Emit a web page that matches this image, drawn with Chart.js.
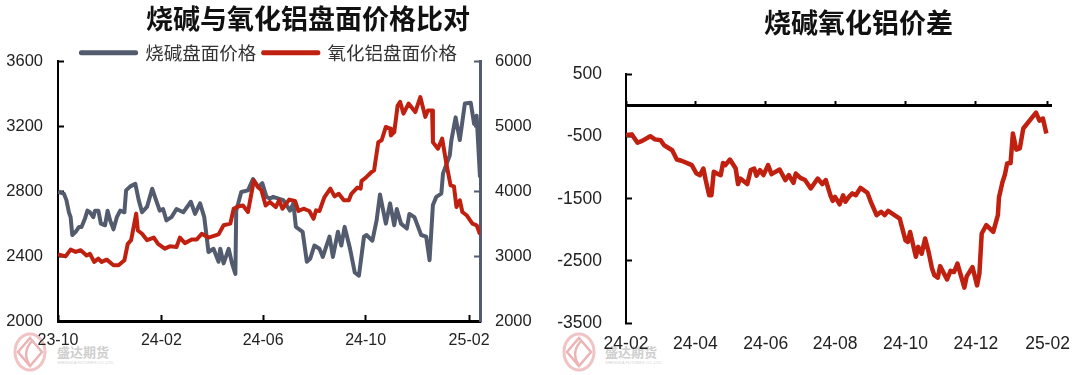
<!DOCTYPE html>
<html>
<head>
<meta charset="utf-8">
<title>烧碱与氧化铝盘面价格比对</title>
<script src="https://cdn.jsdelivr.net/npm/chart.js@4"></script>
<style>
  html, body { margin: 0; padding: 0; background: #fff; }
  #page { position: relative; width: 1080px; height: 375px; overflow: hidden; }
  canvas { position: absolute; top: 0; }
  #leftChart { left: 0; z-index: 2; }
  #rightChart { left: 540px; z-index: 2; }
  .logo { position: absolute; top: 332px; z-index: 1; }
</style>
</head>
<body>
<div id="page">
  <svg class="logo" style="left:12px" width="110" height="42" viewBox="0 0 110 42">
    <ellipse cx="18" cy="20" rx="15" ry="18" fill="none" stroke="#f0c4c4" stroke-width="3"/>
    <path d="M18 6 L30 20 L18 34 L6 20 Z" fill="none" stroke="#ecb4b4" stroke-width="2.5"/>
    <path d="M20 9 Q10 20 17 32" fill="none" stroke="#ecb4b4" stroke-width="2.5"/>
    <text x="45" y="25" font-family="Noto Sans CJK SC" font-size="13" font-weight="700" fill="#cfcfcf">盛达期货</text>
    <text x="45" y="32" font-family="Liberation Sans" font-size="4" fill="#d4d4d4">SHENGDA FUTURES CO.,LTD.</text>
  </svg>
  <svg class="logo" style="left:561px" width="110" height="42" viewBox="0 0 110 42">
    <ellipse cx="18" cy="20" rx="15" ry="18" fill="none" stroke="#f0c4c4" stroke-width="3"/>
    <path d="M18 6 L30 20 L18 34 L6 20 Z" fill="none" stroke="#ecb4b4" stroke-width="2.5"/>
    <path d="M20 9 Q10 20 17 32" fill="none" stroke="#ecb4b4" stroke-width="2.5"/>
    <text x="44" y="25" font-family="Noto Sans CJK SC" font-size="13" font-weight="700" fill="#cfcfcf">盛达期货</text>
    <text x="44" y="32" font-family="Liberation Sans" font-size="4" fill="#d4d4d4">SHENGDA FUTURES CO.,LTD.</text>
  </svg>
  <canvas id="leftChart" width="616" height="375"></canvas>
  <canvas id="rightChart" width="637" height="375"></canvas>
</div>
<script>
// x values are days counted from the first month on each axis

// left chart: days since 2023-10-01
const sodaDays = [0,7,10,13,15,17,21,25,28,32,35,38,42,44,48,51,56,59,62,66,70,74,79,81,86,92,96,100,106,112,118,121,125,129,135,141,149,158,163,169,174,179,185,191,193,197,203,207,211,212,218,226,232,238,243,248,252,256,268,276,280,283,291,296,300,305,311,315,323,327,333,337,341,347,353,358,364,367,374,379,383,390,395,400,403,408,415,418,424,432,438,442,446,450,456,458,466,468,473,478,484,491,495,498,502];
const sodaPrice = [2795,2785,2745,2670,2640,2530,2550,2580,2580,2630,2680,2670,2640,2680,2680,2600,2590,2680,2620,2565,2640,2680,2670,2805,2830,2845,2745,2670,2705,2815,2725,2680,2690,2620,2640,2690,2670,2735,2660,2725,2640,2425,2445,2365,2445,2355,2445,2355,2290,2680,2795,2805,2875,2825,2850,2765,2755,2765,2745,2680,2725,2580,2550,2365,2385,2465,2445,2395,2520,2395,2550,2465,2580,2455,2300,2280,2520,2530,2495,2620,2780,2600,2725,2590,2690,2600,2570,2660,2640,2530,2520,2375,2715,2765,2785,2910,3020,3115,3255,3115,3340,3345,3215,3265,2885];

const aluminaDays = [0,9,15,21,27,34,38,43,48,52,58,66,72,79,83,87,93,95,100,106,114,119,127,133,141,145,151,159,165,171,179,191,197,205,209,214,220,226,233,238,242,247,252,259,263,267,275,282,286,292,299,304,307,311,317,324,329,334,340,346,349,356,360,361,367,373,376,381,385,390,395,396,400,404,407,411,417,425,431,437,440,445,446,452,457,462,467,471,474,478,481,486,493,498,502];
const aluminaPrice = [3025,2995,3100,3065,3090,3010,3035,2910,2960,2910,2945,2860,2860,2935,3190,3245,3655,3395,3345,3245,3285,3190,3115,3150,3140,3285,3200,3255,3255,3345,3285,3335,3475,3500,3730,3765,3780,3680,4165,4065,4015,3780,3835,3755,3860,3730,3870,3850,3695,3730,3695,3575,3705,3695,3910,4040,3920,3960,3860,3860,3960,4055,4040,4155,4220,4295,4320,4755,4785,4990,4965,4860,4910,5320,5375,5195,5350,5220,5450,5145,5245,5245,4755,4655,4810,4425,4090,4075,3755,3860,3680,3630,3500,3475,3335];

const leftTickDays = [0,123,244,366,489];
const leftTickLabels = ['23-10','24-02','24-06','24-10','25-02'];
const leftDayMax = 502;
const sodaTicks = [2000,2400,2800,3200,3600];
const aluminaTicks = [2000,3000,4000,5000,6000];

// right chart: days since 2024-02-01
const spreadDays = [0,5,10,14,21,25,30,33,40,44,48,54,57,61,64,67,69,72,74,76,80,82,84,86,90,95,97,99,105,108,111,113,116,119,123,126,133,138,141,145,147,151,155,160,166,170,173,177,179,181,185,188,190,193,196,199,203,209,212,217,221,224,227,237,242,244,246,251,253,256,259,262,265,267,270,272,278,281,284,287,293,295,300,304,306,308,312,318,322,323,326,328,330,333,335,338,341,344,355,358,361,364];
const spreadValues = [-475,-465,-600,-570,-495,-545,-560,-640,-720,-870,-890,-935,-960,-1095,-1120,-1015,-1200,-1445,-1445,-1065,-1105,-1120,-925,-960,-870,-1015,-1265,-1175,-1265,-1040,-1015,-1130,-1040,-1120,-960,-1105,-1030,-1200,-1120,-1245,-1095,-1165,-1200,-1335,-1175,-1265,-1200,-1445,-1535,-1470,-1590,-1445,-1550,-1470,-1415,-1445,-1325,-1405,-1550,-1765,-1710,-1765,-1695,-1820,-2170,-2195,-2035,-2435,-2275,-2385,-2140,-2355,-2625,-2730,-2770,-2585,-2800,-2660,-2680,-2545,-2930,-2750,-2600,-2895,-2705,-2060,-1925,-2035,-1765,-1475,-1230,-1120,-935,-925,-450,-710,-690,-370,-115,-245,-210,-450];

const rightTickDays = [0,60,121,181,242,303,365];
const rightTickLabels = ['24-02','24-04','24-06','24-08','24-10','24-12','25-02'];
const rightDayMax = 368;
const spreadTicks = [-3500,-2500,-1500,-500,500];

const GREY = '#535b6e';
const RED = '#c0200f';
const BLACK = '#000000';
const TEXT = '#222222';
const NUM_FONT = 'Liberation Sans, Arial, sans-serif';
const CJK_FONT = '"Noto Sans CJK SC", sans-serif';

function toPoints(days, values) {
  return days.map(function(d, i) { return { x: d, y: values[i] }; });
}

function fixedTicks(values) {
  return function(scale) {
    scale.ticks = values.map(function(v) { return { value: v }; });
  };
}

function fixedWidth(w) {
  return function(scale) { scale.width = w; };
}

function fixedHeight(h) {
  return function(scale) { scale.height = h; };
}

new Chart(document.getElementById('leftChart'), {
  type: 'line',
  data: {
    datasets: [{
      label: '烧碱盘面价格',
      data: toPoints(sodaDays, sodaPrice),
      yAxisID: 'y',
      order: 2,
      borderColor: GREY,
      backgroundColor: GREY,
      borderWidth: 4,
      borderJoinStyle: 'round',
      pointRadius: 0,
      tension: 0
    }, {
      label: '氧化铝盘面价格',
      data: toPoints(aluminaDays, aluminaPrice),
      yAxisID: 'y2',
      order: 1,
      borderColor: RED,
      backgroundColor: RED,
      borderWidth: 4,
      borderJoinStyle: 'round',
      pointRadius: 0,
      tension: 0
    }]
  },
  options: {
    responsive: false,
    animation: false,
    devicePixelRatio: 1,
    plugins: {
      tooltip: { enabled: false },
      title: {
        display: true,
        text: '烧碱与氧化铝盘面价格比对',
        color: '#111',
        font: { family: CJK_FONT, size: 27, weight: 'bold' },
        padding: { top: 3, bottom: 1 }
      },
      legend: {
        display: true,
        fullSize: false,
        maxHeight: 25,
        labels: {
          boxWidth: 55,
          boxHeight: 1,
          padding: 7,
          color: '#333',
          font: { family: CJK_FONT, size: 18.5 },
          sort: function(a, b) { return a.datasetIndex - b.datasetIndex; }
        }
      }
    },
    scales: {
      x: {
        type: 'linear',
        min: 0,
        max: leftDayMax,
        afterBuildTicks: fixedTicks(leftTickDays),
        afterFit: fixedHeight(54),
        border: { color: BLACK, width: 3 },
        grid: { drawOnChartArea: false, tickLength: -6, tickWidth: 2, tickColor: BLACK },
        ticks: {
          autoSkip: false,
          maxRotation: 0,
          padding: 16,
          color: TEXT,
          font: { family: NUM_FONT, size: 16 },
          callback: function(v) { return leftTickLabels[leftTickDays.indexOf(v)]; }
        }
      },
      y: {
        position: 'left',
        min: 2000,
        max: 3600,
        afterBuildTicks: fixedTicks(sodaTicks),
        afterFit: fixedWidth(58),
        border: { color: BLACK, width: 2 },
        grid: { drawOnChartArea: false, tickLength: -6, tickWidth: 2, tickColor: BLACK },
        ticks: {
          padding: 21,
          color: TEXT,
          font: { family: NUM_FONT, size: 16.5 },
          callback: function(v) { return String(v); }
        }
      },
      y2: {
        position: 'right',
        min: 2000,
        max: 6000,
        afterBuildTicks: fixedTicks(aluminaTicks),
        afterFit: fixedWidth(136),
        border: { color: GREY, width: 3 },
        grid: { drawOnChartArea: false, tickLength: -6, tickWidth: 2, tickColor: GREY },
        ticks: {
          padding: 21,
          color: TEXT,
          font: { family: NUM_FONT, size: 16.5 },
          callback: function(v) { return String(v); }
        }
      }
    }
  }
});

new Chart(document.getElementById('rightChart'), {
  type: 'line',
  data: {
    datasets: [{
      label: '烧碱氧化铝价差',
      data: toPoints(spreadDays, spreadValues),
      xAxisID: 'x',
      yAxisID: 'y',
      borderColor: RED,
      backgroundColor: RED,
      borderWidth: 4.5,
      borderJoinStyle: 'round',
      pointRadius: 0,
      tension: 0
    }]
  },
  options: {
    responsive: false,
    animation: false,
    devicePixelRatio: 1,
    plugins: {
      tooltip: { enabled: false },
      legend: { display: false },
      title: {
        display: true,
        text: '烧碱氧化铝价差',
        color: '#111',
        font: { family: CJK_FONT, size: 27, weight: 'bold' },
        padding: { top: 7, bottom: 35 }
      }
    },
    scales: {
      // labels stay at the bottom, the axis line itself sits on zero (xZero)
      x: {
        type: 'linear',
        position: 'bottom',
        min: 0,
        max: rightDayMax,
        afterBuildTicks: fixedTicks(rightTickDays),
        afterFit: fixedHeight(52),
        border: { display: false },
        grid: { display: false, drawTicks: false },
        ticks: {
          autoSkip: false,
          maxRotation: 0,
          padding: 11,
          color: TEXT,
          font: { family: NUM_FONT, size: 17.5 },
          callback: function(v) { return rightTickLabels[rightTickDays.indexOf(v)]; }
        }
      },
      xZero: {
        type: 'linear',
        axis: 'x',
        position: { y: 0 },
        min: 0,
        max: rightDayMax,
        afterBuildTicks: fixedTicks(rightTickDays),
        border: { color: BLACK, width: 3 },
        grid: { drawOnChartArea: false, tickLength: -6, tickWidth: 2, tickColor: BLACK },
        ticks: { display: false }
      },
      y: {
        position: 'left',
        min: -3500,
        max: 500,
        afterBuildTicks: fixedTicks(spreadTicks),
        afterFit: fixedWidth(86),
        border: { color: BLACK, width: 2 },
        grid: { drawOnChartArea: false, tickLength: -6, tickWidth: 2, tickColor: BLACK },
        ticks: {
          padding: 30,
          color: TEXT,
          font: { family: NUM_FONT, size: 17.5 },
          callback: function(v) { return String(v); }
        }
      },
      // empty axis, only reserves the space right of the plot so the title centres like the original
      yPad: {
        position: 'right',
        min: 0,
        max: 1,
        afterFit: fixedWidth(126),
        border: { display: false },
        grid: { display: false, drawTicks: false },
        ticks: { display: false }
      }
    }
  }
});
</script>
</body>
</html>
